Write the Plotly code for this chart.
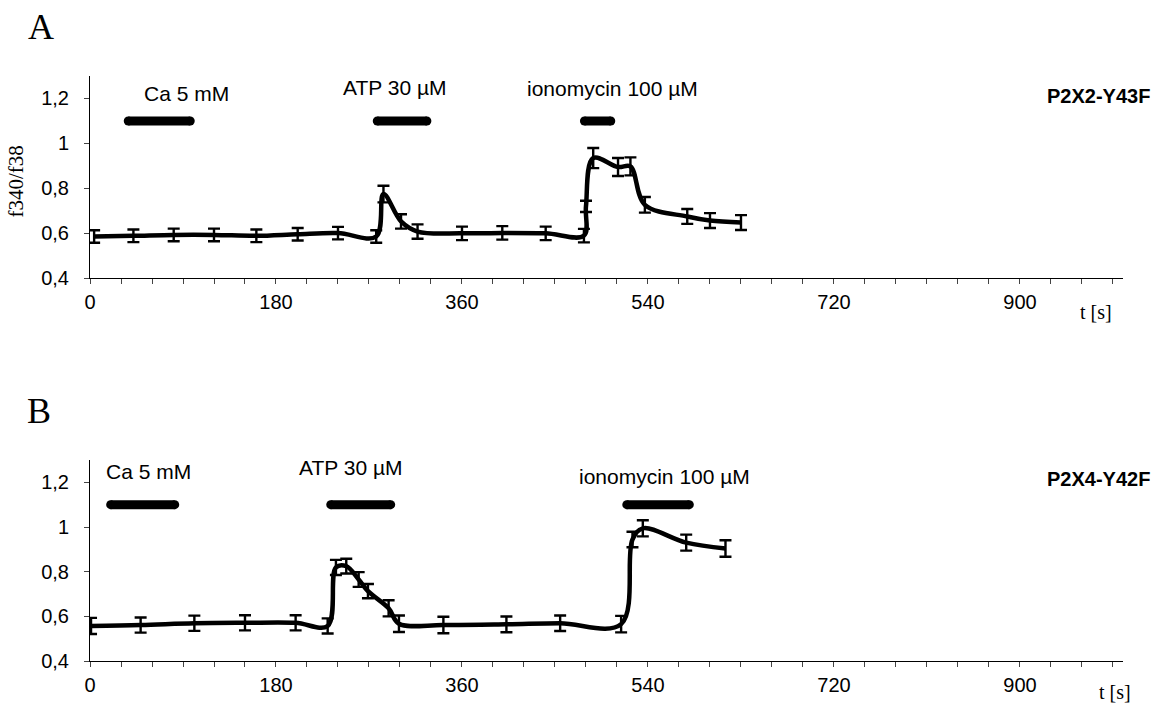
import plotly.graph_objects as go

W, H = 1157, 706

# ---- P2X2-Y43F (panel A) ----
a_t = [4, 42, 81, 120, 161, 201, 240, 277, 284, 301, 317, 360, 399, 441,
       478, 480, 487, 511, 523, 537, 578, 600, 630]
a_ratio = [0.586, 0.589, 0.593, 0.593, 0.589, 0.596, 0.601, 0.586, 0.775,
           0.653, 0.608, 0.600, 0.602, 0.600, 0.590, 0.720, 0.935, 0.895,
           0.898, 0.727, 0.675, 0.657, 0.648]
a_sem = [0.028, 0.028, 0.028, 0.028, 0.028, 0.028, 0.028, 0.028, 0.037,
         0.032, 0.032, 0.030, 0.030, 0.030, 0.030, 0.025, 0.045, 0.040,
         0.040, 0.035, 0.033, 0.033, 0.033]

# ---- P2X4-Y42F (panel B) ----
b_t = [1, 49, 101, 150, 199, 230, 238, 248, 260, 269, 289, 299, 342, 403,
       455, 514, 525, 535, 577, 615]
b_ratio = [0.557, 0.561, 0.569, 0.571, 0.571, 0.557, 0.819, 0.825, 0.765,
           0.713, 0.636, 0.567, 0.561, 0.564, 0.569, 0.565, 0.944, 0.994,
           0.930, 0.904]
b_sem = [0.036, 0.034, 0.034, 0.034, 0.034, 0.034, 0.034, 0.033, 0.033,
         0.032, 0.036, 0.037, 0.037, 0.035, 0.035, 0.037, 0.035, 0.036,
         0.036, 0.037]

# ---- application periods (s) and their labels ----
drugs = ["Ca 5 mM", "ATP 30 µM", "ionomycin 100 µM"]
a_start = [37, 278, 478.5]
a_end = [97, 326, 504]
b_start = [20, 233, 519.5]
b_end = [82, 291, 580]
bar_level = 1.1
a_label_t = [93, 295, 506]
a_label_y = [1.224, 1.25, 1.245]
b_label_t = [57, 253, 556]
b_label_y = [1.25, 1.266, 1.228]

# ---- axes ----
x_range = [0, 1000]
y_range = [0.4, 1.3]
y_ticks = [0.4, 0.6, 0.8, 1.0, 1.2]
y_ticktext = ["0,4", "0,6", "0,8", "1", "1,2"]

SANS = "Liberation Sans, Arial, sans-serif"
SERIF = "Liberation Serif, Times New Roman, serif"

fig = go.Figure()


def add_panel(t, ratio, sem, starts, ends, xa, ya):
    fig.add_trace(go.Scatter(
        x=t, y=ratio, mode="lines", xaxis=xa, yaxis=ya,
        line=dict(color="black", width=4.5, shape="spline", smoothing=1.0),
        error_y=dict(type="data", array=sem, visible=True, color="black",
                     thickness=2.4, width=6),
        showlegend=False, hoverinfo="x+y"))
    for s, e in zip(starts, ends):
        fig.add_trace(go.Scatter(
            x=[s, e], y=[bar_level, bar_level], mode="lines+markers",
            xaxis=xa, yaxis=ya,
            line=dict(color="black", width=9),
            marker=dict(color="black", size=9, symbol="circle"),
            showlegend=False, hoverinfo="skip"))


add_panel(a_t, a_ratio, a_sem, a_start, a_end, "x", "y")
add_panel(b_t, b_ratio, b_sem, b_start, b_end, "x2", "y2")

annotations = []
for name, tx, ty in zip(drugs, a_label_t, a_label_y):
    annotations.append(dict(x=tx, y=ty, xref="x", yref="y", text=name,
                            showarrow=False, xanchor="center", yanchor="middle",
                            font=dict(family=SANS, size=21, color="black")))
for name, tx, ty in zip(drugs, b_label_t, b_label_y):
    annotations.append(dict(x=tx, y=ty, xref="x2", yref="y2", text=name,
                            showarrow=False, xanchor="center", yanchor="middle",
                            font=dict(family=SANS, size=21, color="black")))

# panel letters, construct names, axis titles
annotations += [
    dict(x=40.5 / W, y=1 - 27.5 / H, xref="paper", yref="paper", text="A",
         showarrow=False, xanchor="center", yanchor="middle",
         font=dict(family=SERIF, size=36, color="black")),
    dict(x=39 / W, y=1 - 410.5 / H, xref="paper", yref="paper", text="B",
         showarrow=False, xanchor="center", yanchor="middle",
         font=dict(family=SERIF, size=36, color="black")),
    dict(x=1152 / W, y=1 - 95.7 / H, xref="paper", yref="paper",
         text="<b>P2X2-Y43F</b>", showarrow=False, xanchor="right",
         yanchor="middle", font=dict(family=SANS, size=20, color="black")),
    dict(x=1152 / W, y=1 - 479 / H, xref="paper", yref="paper",
         text="<b>P2X4-Y42F</b>", showarrow=False, xanchor="right",
         yanchor="middle", font=dict(family=SANS, size=20, color="black")),
    dict(x=16 / W, y=1 - 181.5 / H, xref="paper", yref="paper",
         text="f340/f38", textangle=-90, showarrow=False, xanchor="center",
         yanchor="middle", font=dict(family=SERIF, size=21, color="black")),
    dict(x=1096 / W, y=1 - 312 / H, xref="paper", yref="paper",
         text="t [s]", showarrow=False, xanchor="center", yanchor="middle",
         font=dict(family=SERIF, size=20, color="black")),
    dict(x=1115 / W, y=1 - 692 / H, xref="paper", yref="paper",
         text="t [s]", showarrow=False, xanchor="center", yanchor="middle",
         font=dict(family=SERIF, size=20, color="black")),
]

x_dom = [90 / W, 1123.3 / W]
ya_dom = [1 - 278.3 / H, 1 - 76 / H]
yb_dom = [1 - 661 / H, 1 - 460 / H]


def x_axis(anchor):
    return dict(domain=x_dom, range=x_range, anchor=anchor, automargin=False,
                showline=True, linecolor="black", linewidth=1,
                showgrid=False, zeroline=False,
                tickmode="linear", tick0=0, dtick=180,
                ticks="outside", ticklen=5, tickwidth=1, tickcolor="#444",
                ticklabelstandoff=1,
                minor=dict(tick0=0, dtick=30, ticks="outside", ticklen=5,
                           tickwidth=1, tickcolor="#444", showgrid=False),
                tickfont=dict(family=SANS, size=20, color="black"))


def y_axis(domain, anchor):
    return dict(domain=domain, range=y_range, anchor=anchor, automargin=False,
                showline=True, linecolor="black", linewidth=1,
                showgrid=False, zeroline=False,
                tickmode="array", tickvals=y_ticks, ticktext=y_ticktext,
                ticks="outside", ticklen=5, tickwidth=1, tickcolor="#444",
                ticklabelstandoff=11,
                tickfont=dict(family=SANS, size=20, color="black"))


fig.update_layout(
    width=W, height=H,
    margin=dict(l=0, r=0, t=0, b=0, autoexpand=False),
    paper_bgcolor="white", plot_bgcolor="white",
    xaxis=x_axis("y"), yaxis=y_axis(ya_dom, "x"),
    xaxis2=x_axis("y2"), yaxis2=y_axis(yb_dom, "x2"),
    annotations=annotations,
    showlegend=False,
)

fig.write_html("out.html")
